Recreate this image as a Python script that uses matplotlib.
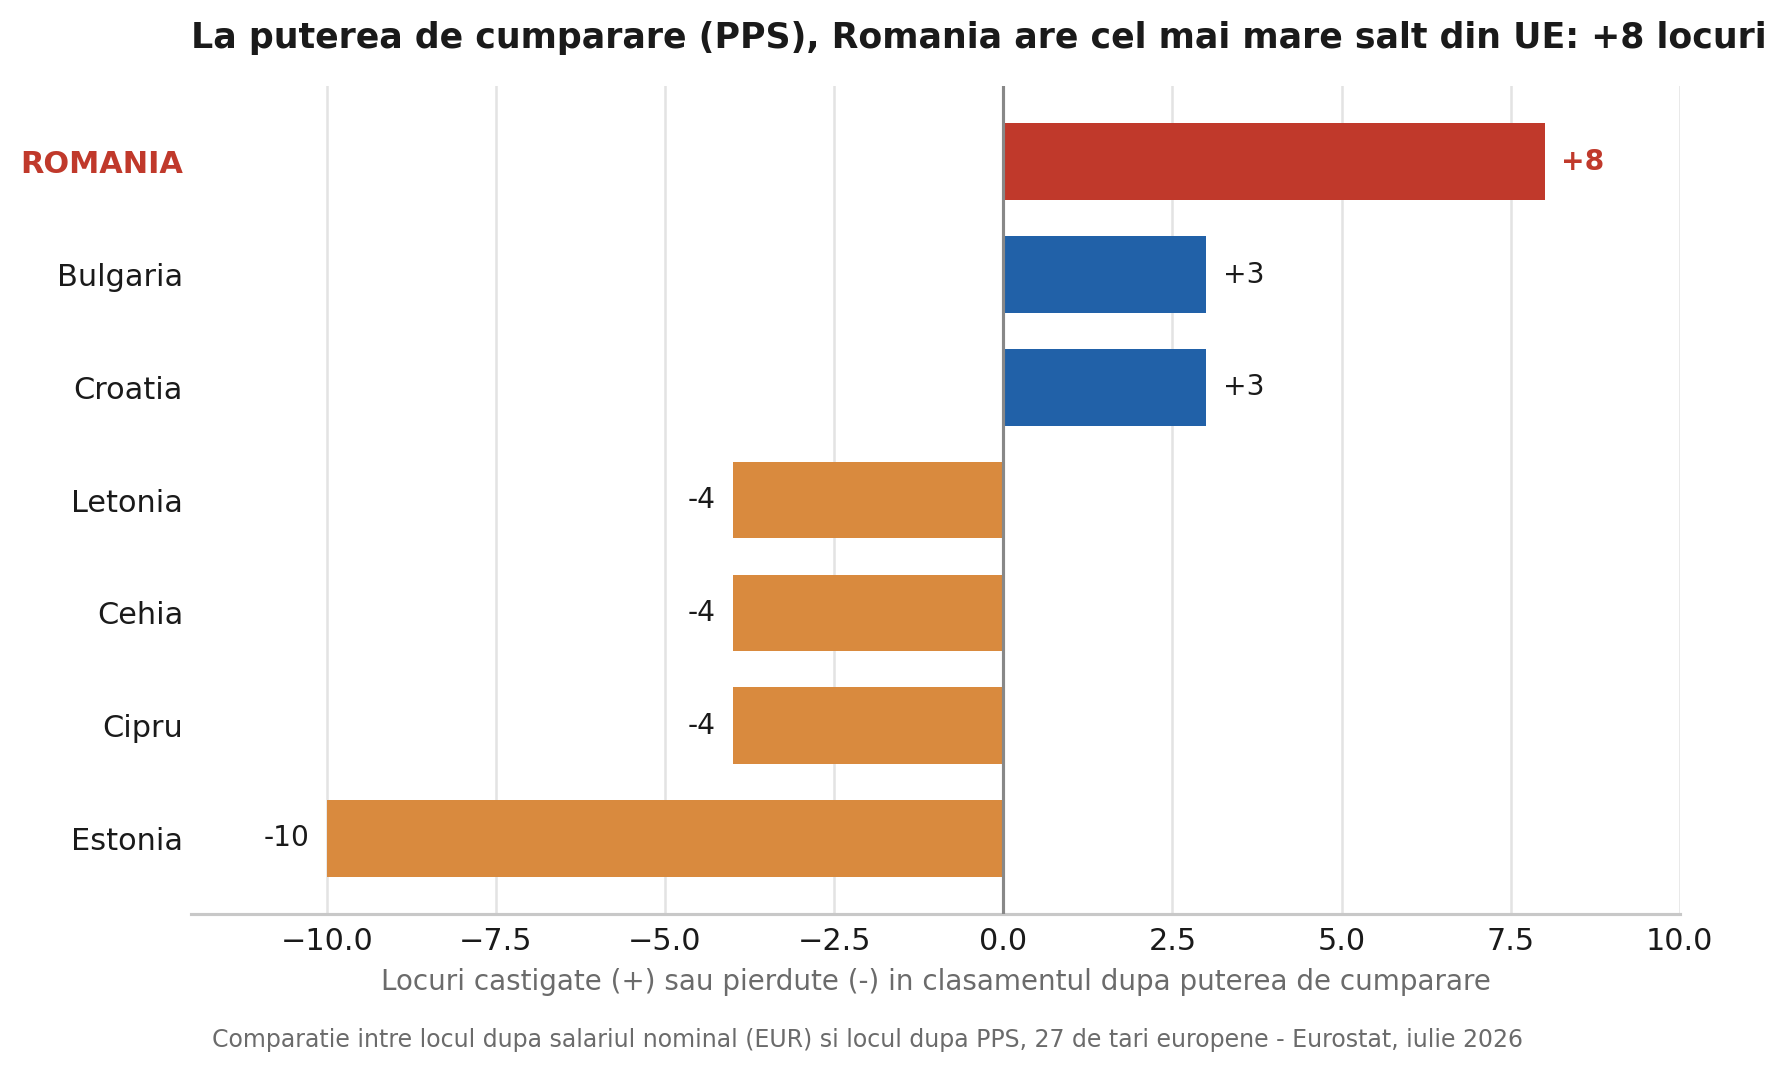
import matplotlib.pyplot as plt

# Date: locuri castigate/pierdute intre clasamentul nominal si cel PPS
tari = ['ROMANIA', 'Bulgaria', 'Croatia', 'Letonia', 'Cehia', 'Cipru', 'Estonia']
diferente = [8, 3, 3, -4, -4, -4, -10]
etichete = ['+8', '+3', '+3', '-4', '-4', '-4', '-10']

ROSU = '#C0392B'
ALBASTRU = '#2161A8'
PORTOCALIU = '#D98A3E'
TEXT = '#1a1a1a'
GRI = '#6b6b6b'


def main():
    fig = plt.figure(figsize=(1789 / 150, 1072 / 150), dpi=150)
    ax = fig.add_axes([0.107, 0.147, 0.832, 0.773])

    culori = []
    for tara, val in zip(tari, diferente):
        if tara == 'ROMANIA':
            culori.append(ROSU)
        elif val > 0:
            culori.append(ALBASTRU)
        else:
            culori.append(PORTOCALIU)

    pozitii = list(range(len(tari)))
    ax.barh(pozitii, diferente, height=0.68, color=culori, zorder=3)
    ax.invert_yaxis()

    # etichete cu valorile
    for y, val, txt, tara in zip(pozitii, diferente, etichete, tari):
        if val >= 0:
            x, ha = val + 0.25, 'left'
        else:
            x, ha = val - 0.25, 'right'
        if tara == 'ROMANIA':
            ax.text(x, y, txt, ha=ha, va='center', fontsize=13.5,
                    fontweight='bold', color=ROSU, zorder=4)
        else:
            ax.text(x, y, txt, ha=ha, va='center', fontsize=13.5,
                    color=TEXT, zorder=4)

    ax.axvline(0, color='#888888', linewidth=1.5, zorder=4)
    ax.set_xlim(-12, 10)
    ax.set_xticks([-10, -7.5, -5, -2.5, 0, 2.5, 5, 7.5, 10])

    ax.set_yticks(pozitii)
    ax.set_yticklabels(tari)
    for lbl in ax.get_yticklabels():
        if lbl.get_text() == 'ROMANIA':
            lbl.set_color(ROSU)
            lbl.set_fontweight('bold')
        else:
            lbl.set_color(TEXT)

    ax.tick_params(axis='y', length=0, pad=4, labelsize=14.6)
    ax.tick_params(axis='x', length=0, pad=6, labelsize=14.5, colors=TEXT)

    ax.grid(axis='x', color='#e3e3e3', linewidth=1.2, zorder=0)
    ax.set_axisbelow(True)
    for s in ['top', 'right', 'left']:
        ax.spines[s].set_visible(False)
    ax.spines['bottom'].set_color('#c8c8c8')
    ax.spines['bottom'].set_linewidth(1.5)

    ax.set_xlabel('Locuri castigate (+) sau pierdute (-) in clasamentul dupa puterea de cumparare',
                  fontsize=13.3, color=GRI, labelpad=6)
    ax.set_title('La puterea de cumparare (PPS), Romania are cel mai mare salt din UE: +8 locuri',
                 loc='left', fontsize=16.7, fontweight='bold', color=TEXT, pad=18)

    fig.text(0.485, 0.03, 'Comparatie intre locul dupa salariul nominal (EUR) si locul dupa PPS, '
             '27 de tari europene - Eurostat, iulie 2026',
             ha='center', va='center', fontsize=11.35, color=GRI)

    fig.savefig('out.png', dpi=150)


if __name__ == '__main__':
    main()
